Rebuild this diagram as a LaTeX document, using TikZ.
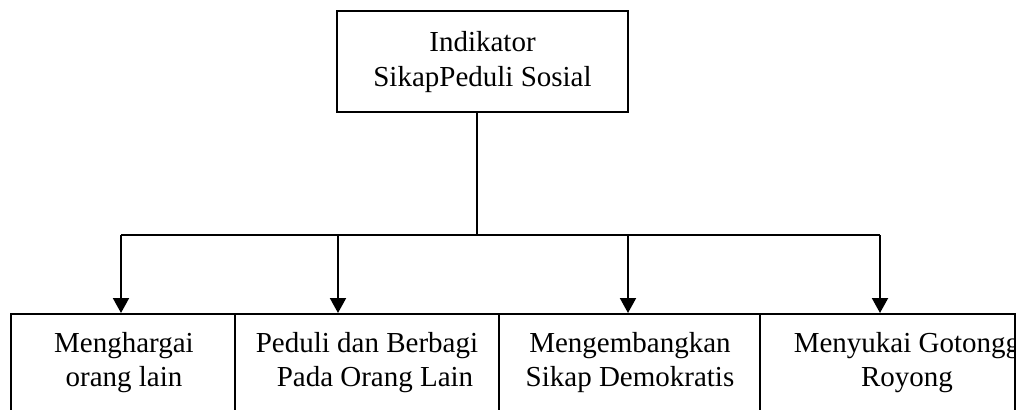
\documentclass[tikz,border=0pt]{standalone}
\usepackage{fontspec}
\setmainfont{Liberation Serif}
\usetikzlibrary{arrows.meta}
\begin{document}
\begin{tikzpicture}[x=1pt,y=-1pt,
  box/.style={draw,line width=2pt,inner sep=0pt},
  lbl/.style={font=\fontsize{29}{35}\selectfont,align=center,inner sep=0pt,anchor=base},
  conn/.style={line width=2pt},
  arr/.style={conn,-{Triangle[width=16pt,length=15pt]}}]
\useasboundingbox (0,0) rectangle (1021,410);
\clip (0,0) rectangle (1021,410);
% top box
\node[box,minimum width=291pt,minimum height=101pt] (top) at (482.5,61.5) {};
\node[lbl] (toptxt) at (482.5,86) {Indikator\\SikapPeduli Sosial};
% bottom labels
\node[lbl,font=\fontsize{29}{34}\selectfont] (t1) at (124,386) {Menghargai\\orang lain};
\node[lbl,font=\fontsize{29}{34}\selectfont] (t2) at (367,386) {Peduli dan Berbagi\\\hspace*{16pt}Pada Orang Lain};
\node[lbl,font=\fontsize{29}{34}\selectfont] (t3) at (630,386) {Mengembangkan\\Sikap Demokratis};
\begin{scope}
  \clip (760,314) rectangle (1015,410);
  \node[lbl,font=\fontsize{29}{34}\selectfont] (t4) at (907,386) {Menyukai Gotongg\\Royong};
\end{scope}
% bottom boxes
\node[box,minimum width=224pt,minimum height=116pt] (b1) at (123,372) {};
\node[box,minimum width=264pt,minimum height=116pt] (b2) at (367,372) {};
\node[box,minimum width=261pt,minimum height=116pt] (b3) at (629.5,372) {};
\node[box,minimum width=255pt,minimum height=116pt] (b4) at (887.5,372) {};
% connectors
\coordinate (j) at (477,235);
\coordinate (h1) at (121,235);
\coordinate (h2) at (338,235);
\coordinate (h3) at (628,235);
\coordinate (h4) at (880,235);
\draw[conn] (top.south -| j) -- (j);
\draw[conn] (h1) -- (h4);
\draw[arr] (h1) -- (h1 |- b1.north);
\draw[arr] (h2) -- (h2 |- b2.north);
\draw[arr] (h3) -- (h3 |- b3.north);
\draw[arr] (h4) -- (h4 |- b4.north);
\end{tikzpicture}
\end{document}
